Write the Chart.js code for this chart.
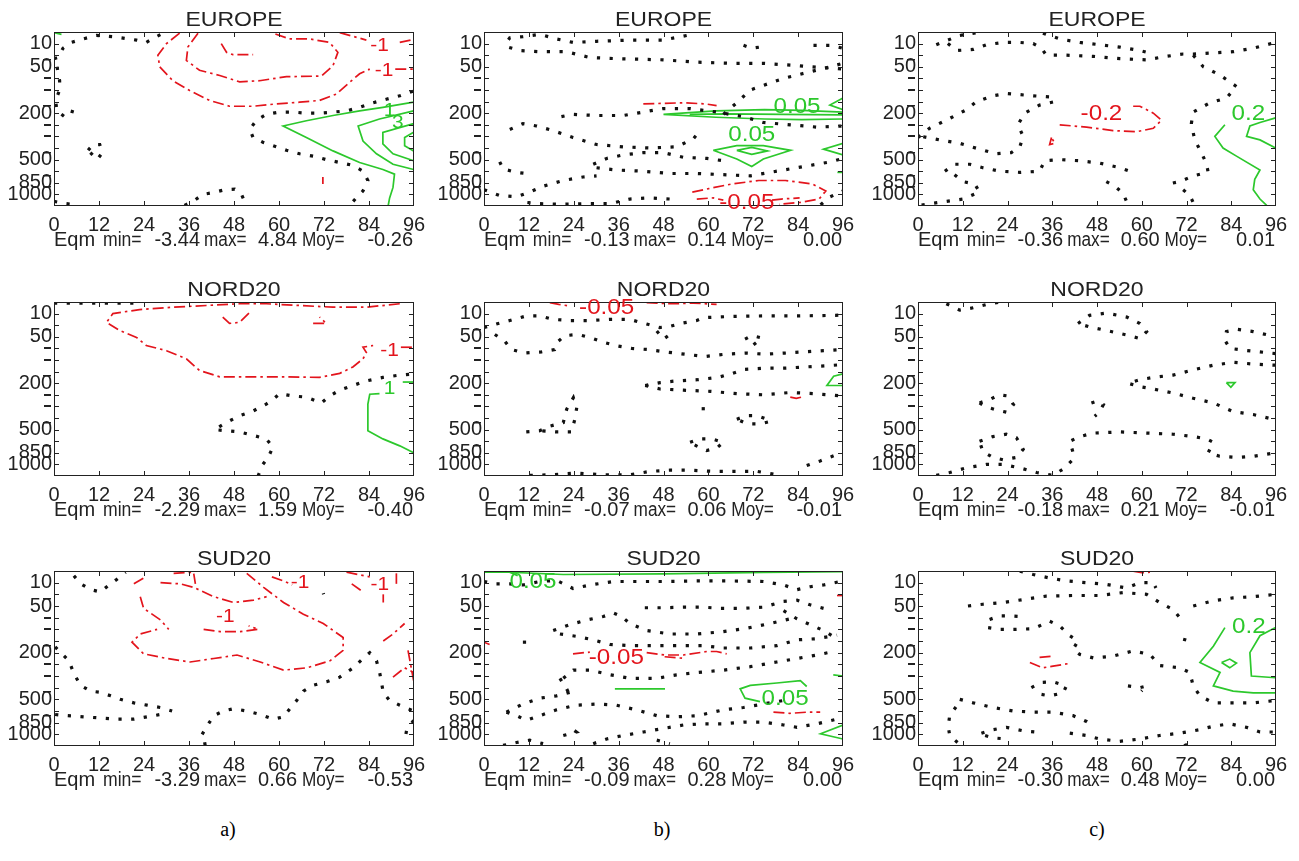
<!DOCTYPE html>
<html>
<head>
<meta charset="utf-8">
<script src="https://cdn.jsdelivr.net/npm/chart.js@4.4.0/dist/chart.umd.min.js"></script>
<style>
  body { margin: 0; background: #fff; width: 1299px; height: 861px; position: relative; overflow: hidden; }
  .panel { position: absolute; }
  .tag { position: absolute; width: 60px; text-align: center; font-family: "Liberation Serif", "Times New Roman", serif; font-size: 20px; color: #000; }
</style>
</head>
<body>
<div class="tag" style="left:198px;top:818px">a)</div>
<div class="tag" style="left:632px;top:818px">b)</div>
<div class="tag" style="left:1067px;top:818px">c)</div>
<script>
// axes
const hourTicks = [0, 12, 24, 36, 48, 60, 72, 84, 96];
const levelTicks = [1, 3, 4, 5, 7, 8, 9, 11, 13, 14];
const levelNames = ['10', '50', '-', '-', '200', '-', '-', '500', '850', '1000'];
const regions = ['EUROPE', 'NORD20', 'SUD20'];

// Eqm min / max / Moy per panel
const a1Stats = [-3.44, 4.84, -0.26];
const b1Stats = [-0.13, 0.14, 0.00];
const c1Stats = [-0.36, 0.60, 0.01];
const a2Stats = [-2.29, 1.59, -0.40];
const b2Stats = [-0.07, 0.06, -0.01];
const c2Stats = [-0.18, 0.21, -0.01];
const a3Stats = [-3.29, 0.66, -0.53];
const b3Stats = [-0.09, 0.28, 0.00];
const c3Stats = [-0.30, 0.48, 0.00];

// contours as [hour, level] polylines: zero (dotted), negative (red), positive (green)
const a1Zero = [
  [[0,2.3],[1.1,2.2],[2.4,1.4],[4.6,0.9],[7.7,0.6],[11.3,0.3],[15.7,0.4],[22,0.7],[24.6,0.9],[27.3,0.4],[29.5,0.05]],
  [[0.8,3.0],[1.5,4.2],[1.5,5.0],[0.4,5.9],[0.8,6.8],[2.8,7.3],[4.2,6.8],[6.4,7.0]],
  [[9.1,10.2],[10.4,9.7],[12.2,9.7],[12.9,10.4],[11.5,11.0],[9.1,10.2]],
  [[0,14.6],[3.3,14.8],[6.4,14.9]],
  [[34.8,14.95],[37.1,14.6],[39.7,14.0],[42.4,13.85],[45.5,13.6],[48.2,13.55],[50,14.0],[51.3,14.95]],
  [[95.7,5.1],[92.2,5.5],[88.6,5.8],[85.1,6.1],[81.5,6.5],[78,6.8],[74.4,6.9],[70.8,7.0],[67.3,7.0],[63.7,6.9],[60.2,6.9],[56.6,7.1],[54,7.6],[52.2,8.4],[53.1,9.1],[55.7,9.5],[58.4,9.8],[62,10.2],[65.5,10.5],[69.1,10.7],[72.6,11.0],[76.2,11.25],[79.7,11.5],[82.4,12.0],[83.7,12.8],[82.4,13.7],[80.6,14.3],[78.8,14.95]]
];
const a1Neg = [
  [[33.5,0.1],[30,1.0],[27.7,2.0],[28.2,3.0],[31.7,4.2],[36.2,5.05],[41.5,5.9],[46.8,6.4],[53.1,6.4],[59.3,6.2],[65.5,6.05],[70.8,5.9],[75.3,5.35],[78.8,4.35],[81.5,3.6],[84.2,3.2]],
  [[38.4,0.1],[35.7,1.3],[35.3,2.45],[38.8,3.3],[44.2,3.75],[49.5,4.3],[54.8,4.2],[62,3.85],[71.3,3.8],[74.4,2.9],[75.7,1.75],[73.5,0.9],[68.2,0.6],[62.8,0.6],[58.4,0.1]],
  [[44.6,1.0],[46,1.75],[47.7,1.95],[53.1,1.95]],
  [[76.2,0.05],[83.3,0.7]],
  [[92.2,0.9],[95.9,0.65]],
  [[91,3.2],[95.9,3.2]],
  [[71.7,12.5],[71.7,13.1]]
];
const a1Pos = [
  [[95.9,6.05],[87.7,6.5],[81.5,6.8],[74.4,7.2],[67.3,7.65],[61.1,8.1],[67.3,9.1],[74.4,10.25],[81.5,11.25],[87.7,11.85],[90.8,12.25],[90.4,13.4],[89.5,14.3],[89.1,15]],
  [[95.9,6.8],[86.8,7.5],[81.1,8.1],[82.4,9.4],[86,10.5],[90.4,11.4],[95.9,11.85]],
  [[95.9,7.9],[87.7,8.65],[87.7,9.65],[90.4,10.5],[95.9,11.1]],
  [[95.9,8.65],[93.5,9.1],[93.5,9.8],[95.9,10.25]],
  [[0,0.05],[2,0.2]]
];
const a1Labels = [[86.8,1.15,'-1','neg'],[88,3.3,'-1','neg'],[89.5,6.8,'1','pos'],[91.7,7.8,'3','pos']];

const b1Zero = [
  [[54.2,0.3],[47.9,0.7],[39,0.7],[30.1,0.8],[23.8,0.9],[19.4,0.6],[14.9,0.2],[10.4,0.4],[6.9,0.5],[6,0.9],[6.4,1.3],[9.6,1.6],[14.9,1.7],[22,1.7],[28.3,2.2],[35.4,2.3],[47.9,2.4],[56.9,2.6],[65.8,2.7],[74.7,2.7],[83.7,2.9],[96,3.2]],
  [[64,7.1],[67.6,6.1],[71.2,5.0],[74.7,4.6],[80.1,4.0],[86.3,3.5],[92.6,3.0],[96,2.7]],
  [[69.4,1.15],[71.6,1.4],[73.8,1.3]],
  [[88.1,1.15],[92.6,1.15],[96,1.4]],
  [[20.7,7.3],[23.8,7.1],[30.1,7.2],[37.2,7.2],[42.6,6.9],[47.9,6.6],[55.1,6.6],[62.2,6.9],[69.4,7.3],[74.7,7.8],[81.9,8.0],[89,8.2],[96,8.1]],
  [[6.9,8.4],[10.4,7.9],[14,8.1],[18.5,8.5],[23.8,9.1],[30.1,9.7],[37.2,9.9],[44.4,10],[51.5,9.9],[56,9.2],[57.8,8.5]],
  [[4.2,11.2],[5.1,11.8],[8.7,12.1],[11.3,12.2]],
  [[29.2,11.4],[32.8,10.9],[37.2,10.6],[42.6,10.4],[47.9,10.4],[53.3,10.8],[59.6,10.9],[64,11.1]],
  [[30.1,11.7],[35.4,11.9],[42.6,12.0],[49.7,12.2],[56.9,12.2],[64,12.3],[71.2,12.4],[76.5,12.1],[81.9,11.8],[87.2,11.5],[92.6,11.2],[96,10.9]],
  [[0,13.6],[4.2,14.1],[8.7,14.2],[12.2,13.8],[15.8,13.3],[21.2,12.8],[26.5,12.5],[30.1,12.4]],
  [[11.6,14.7],[14.9,14.8],[21.2,14.85],[27.4,14.8],[33.7,14.8],[39,14.4],[44.4,14.3],[49.7,14.4]],
  [[90,14.9],[92.6,14.2],[96,13.7]]
];
const b1Neg = [
  [[42.6,6.2],[47.9,6.15],[53.3,6.1],[59.2,6.2],[62.2,6.35]],
  [[55.7,13.8],[60.1,13.5],[66.3,13.1],[73.5,12.8],[80.6,12.8],[87.8,13.1],[91.4,13.7],[89.6,14.4],[84.4,14.7],[78.9,14.85]],
  [[56.9,14.4],[61.3,14.3],[64,14.5]],
  [[77,14.5],[79.5,14.4],[84.4,14.3]]
];
const b1Pos = [
  [[96,6.9],[85,6.75],[75,6.7],[62,6.8],[48,7.1],[62,7.35],[75,7.5],[85,7.55],[96,7.5]],
  [[96,7.15],[80,7.1],[65,7.05],[55,7.1]],
  [[96,5.7],[92.5,6.3],[96,6.7]],
  [[61.3,10.2],[67.6,9.8],[74.7,9.8],[82,10.2],[74.7,10.95],[71.6,11.6],[67.6,10.95],[61.3,10.2]],
  [[67.6,10.2],[71.6,9.95],[75.8,10.25],[71.6,10.55],[67.6,10.2]],
  [[96,9.6],[90.8,10.1],[96,10.6]],
  [[94.5,12.1],[96,12.1]]
];
const b1Labels = [[83.7,6.5,'0.05','pos'],[71.6,8.85,'0.05','pos'],[70.3,14.75,'-0.05','neg']];

const c1Zero = [
  [[4.9,1.1],[8,0.7],[11.2,0.3],[16.5,0.02]],
  [[8,1.0],[10.3,1.6],[14.8,1.5],[18.3,1.1],[22.8,0.9],[27.3,0.9],[30.9,1.0],[33.1,1.4],[34.4,2.0],[39.8,2.0],[47,2.1],[54.1,2.3],[61.3,2.4],[66.6,2.1],[71.1,1.9],[73.8,1.9],[79.2,1.8],[84.5,1.7],[89.9,1.4],[95.9,0.9]],
  [[33.5,0.1],[38,0.6],[43.4,0.9],[48.7,1.1],[54.1,1.3],[59.5,1.6],[63.1,1.9]],
  [[73.8,2],[76.5,3],[80.9,3.7],[85.4,4.7],[82.7,5.7],[78.3,6.1],[73.8,6.9],[73.3,7.9],[74.2,9.3],[76,10.4],[77.4,11.4],[77.8,12.1],[73.8,12.4],[70.2,12.9],[67.1,13.1]],
  [[71.1,13.6],[72.9,14.1],[74.1,14.9]],
  [[0,9.1],[3.1,8.3],[7.6,7.6],[13,6.7],[15.7,6.0],[20.1,5.5],[23.7,5.3],[27.3,5.4],[30.9,5.5],[35.3,5.6],[36.7,6.0],[32.6,6.3],[28.6,7.0],[26.8,8.0],[28.2,9.0],[27.3,9.9],[25,10.4],[21,10.5],[16.5,10.1],[11.2,9.6],[5.8,9.3],[0.9,9.0]],
  [[7.2,12],[9.8,11.4],[13.9,11.4],[17.4,11.7],[21.9,12.0],[27.3,12.1],[32.6,12],[34,11.1],[38,11],[43.4,11.1],[48.7,11.3],[54.1,11.7],[57.7,12.1]],
  [[9.8,12.3],[12.1,12.9],[15.2,13.1],[16.5,13.8],[12.1,14.4],[7.6,14.6],[3.1,14.8],[0.4,14.95]],
  [[50.5,12.9],[52.8,13.3],[55,13.9],[55.9,14.6]]
];
const c1Neg = [
  [[38,8],[45.2,8.2],[52.3,8.5],[58.6,8.6],[63.1,8.3],[65.3,7.6],[63.1,7.0],[59.5,6.4],[57.7,6.4]],
  [[35.8,9.1],[35.3,9.7],[36.7,9.6],[35.8,9.1]]
];
const c1Pos = [
  [[82.3,8],[79.6,9],[81.8,10],[85.4,10.7],[91.7,11.9],[90.3,12.7],[89.9,13.6],[91.7,14.4],[93.5,14.95]],
  [[95.9,7.4],[91.7,7.8],[89,8.1],[88.1,9.0],[91.7,9.3],[95.9,10]]
];
const c1Labels = [[49.2,7.1,'-0.2','neg'],[88.6,7.05,'0.2','pos']];

const a2Zero = [
  [[0,0.1],[6,0.1],[12,0.1],[18,0.1],[23.7,0.1]],
  [[54.4,15],[55.7,14],[57.1,13.4],[58.4,12.5],[56.6,11.8],[53.1,11.5],[49.5,11.2],[45.9,11.1],[42.8,11],[45.9,10.4],[49.5,9.8],[53.1,9.4],[56.6,8.8],[58.4,8.4],[60.2,7.9],[63.7,8.1],[67.3,8.2],[71.3,8.7],[73.5,8.1],[76.2,7.6],[79.7,7.2],[83.3,6.8],[87.7,6.5],[92.2,6.3],[95.9,6.2]]
];
const a2Neg = [
  [[92.2,0.15],[83.3,0.45],[74.4,0.45],[65.5,0.3],[56.6,0.15],[49.5,0.15],[40.6,0.3],[31.7,0.45],[22.8,0.65],[15.7,1.0],[14,1.75],[17.5,2.45],[22,3.05],[24.6,3.75],[30,4.2],[35.3,4.9],[38.8,5.9],[44.2,6.45],[53.1,6.45],[62,6.45],[70.8,6.5],[76.2,6.15],[79.7,5.6],[82.4,4.9],[83.3,4.35],[82.4,3.9],[85.1,3.75]],
  [[45,1.3],[46.8,1.85],[49.5,1.75],[52.2,0.9]],
  [[69.1,1.85],[72.6,1.85],[70.8,1.3]],
  [[92.5,3.9],[95.9,3.9]]
];
const a2Pos = [
  [[86.8,7.9],[84.2,7.95],[83.7,8.8],[83.7,11.1],[87.7,11.8],[92.2,12.4],[95.9,13]],
  [[93,6.9],[95.9,6.9]]
];
const a2Labels = [[89.5,4.2,'-1','neg'],[89.5,7.5,'1','pos']];

const b2Zero = [
  [[0,2.2],[3.3,1.9],[6.9,1.6],[11.3,1.2],[14.9,1.2],[18.5,1.5],[23,1.6],[28.4,1.6],[33.7,1.5],[39,1.5],[43.5,1.9],[47,2.2],[49.7,2.1],[53.3,1.8],[56.9,1.6],[58.7,1.35],[65.8,1.25],[74.7,1.2],[83.7,1.2],[94,1.15],[96,1.1]],
  [[2.9,2.8],[5.6,3.4],[7.3,4.1],[10.9,4.4],[15.4,4.3],[18.9,4.1],[19.8,3.4],[21.6,2.9],[25.1,2.8],[28.7,3.1],[32.3,3.5],[35.9,3.8],[39.5,4.0],[43.9,4.1],[48.4,4.3],[53.7,4.5],[59.1,4.7],[64.5,4.5],[69.8,4.4],[75.3,4.5],[80.5,4.4],[85.4,4.3],[90.8,4.2],[96,4.1]],
  [[46.2,2.5],[48,3.2],[49.7,2.8]],
  [[69.8,3.2],[71.6,2.9],[74.3,3.1],[71.6,3.8]],
  [[43.1,7.2],[47.1,6.95],[51.5,6.8],[57.1,6.7],[62.5,6.5],[66,6.2],[69.8,5.8],[75.3,5.7],[80.5,5.7],[85.9,5.6],[91.2,5.5],[96,5.4]],
  [[43.1,7.2],[47.1,7.5],[53.3,7.6],[60.5,7.7],[67.6,7.9],[74.7,8.0],[81.9,7.8],[88.1,7.9],[96,8.1]],
  [[11.3,11.2],[14.9,11.1],[17.6,10.7],[21.2,10.4],[22.1,9.25],[23.9,8.25],[24.8,9.1],[24.3,10.1],[23.4,11.2],[19.4,11.2],[14.9,11.1]],
  [[58.2,9.2],[60.9,9.2]],
  [[67.6,10.1],[70.3,9.8],[73,9.8],[75.7,10.1],[76.6,10.3],[73.9,10.5],[70.3,10.5],[67.6,10.1]],
  [[55.1,12.1],[57.8,11.8],[60.9,11.8],[64,12.1],[62.2,12.6],[59.5,12.8],[56.8,12.4],[55.1,12.1]],
  [[12.2,14.95],[17.6,14.9],[24.7,14.75],[31.9,14.9],[39,14.9],[44.4,14.6],[49.7,14.5],[55.1,14.5],[61.3,14.6],[67.6,14.6],[73,14.6],[78.4,14.9]],
  [[86.3,14.1],[89.9,13.7],[94.8,13.1]]
];
const b2Neg = [
  [[17.6,0.05],[20,0.2],[23,0.35]],
  [[43.5,0.05],[50,0.15],[56,0.1],[62.2,0.2]],
  [[81.9,8.2],[83.5,8.3],[85,8.2]]
];
const b2Pos = [
  [[96,6.2],[93.5,6.4],[91.7,7.2],[96,7.2]]
];
const b2Labels = [[32.8,0.5,'-0.05','neg']];

const c2Zero = [
  [[7.6,0.15],[11.2,0.7],[14.8,0.5],[19.2,0.15],[21.9,0.02]],
  [[42.9,1.85],[46,1.15],[50.5,0.95],[56,1.3],[59.5,1.85],[61.3,2.55],[59.5,3.15],[56,2.85],[50.5,2.45],[46,2.15],[42.9,1.85]],
  [[95.9,4.45],[91.7,4.3],[87.2,4.15],[83.6,4.0],[82.3,3.3],[82.7,2.55],[85.4,2.35],[89.9,2.55],[95.9,3.0]],
  [[95.9,5.45],[89.9,5.35],[84.5,5.2],[79.2,5.45],[73.8,5.85],[68.4,6.3],[63.1,6.5],[59.5,6.7],[56.3,7.0],[59.5,7.3],[63.1,7.5],[68.4,7.85],[73.8,8.3],[79.2,8.7],[84.5,9.45],[89.9,9.7],[95.9,10.15]],
  [[16.5,8.7],[19.2,8.4],[21.9,8.0],[24.1,8.1],[25.6,8.85],[23.7,9.5],[21,9.3],[18.3,9.05],[16.5,8.7]],
  [[46.5,8.7],[47.9,8.55],[49.7,8.85],[48.6,9.5],[47.4,9.85]],
  [[16.5,12],[20.1,11.6],[23.7,11.4],[26.4,11.7],[28.2,12.7],[26.4,13.4],[22.8,13.6],[20.1,13.4],[17.4,12.9],[16.5,12]],
  [[4.9,14.95],[8.5,14.7],[13,14.3],[18.3,14.0],[22.8,14.0],[27.3,14.3],[31.8,14.7],[36.2,14.95],[38.9,14.4],[41.2,13.7],[41.6,13],[40.7,12],[43.4,11.6],[47,11.3],[54.1,11.2],[61.3,11.3],[68.4,11.4],[73.8,11.6],[77.4,11.8],[79.2,12.1],[77.8,13],[80.9,13.3],[85.4,13.4],[89.9,13.3],[95.9,13.0]]
];
const c2Neg = [];
const c2Pos = [
  [[82.7,6.95],[85,6.95],[83.9,7.35],[82.7,6.95]]
];
const c2Labels = [];

const a3Zero = [
  [[5.3,0.4],[7.1,1.1],[9.8,1.6],[12.4,1.8],[15.1,1.1],[16.8,0.7],[19.1,0.1]],
  [[0.3,6.5],[1.8,7.0],[4,7.7],[5.3,8.8],[7.1,9.8],[9.8,10.3],[12.4,10.4],[15.1,10.7],[17.7,11],[21.3,11.3],[24.8,11.5],[28.4,11.7],[31.5,12]],
  [[0.3,12.3],[3.5,12.4],[8,12.5],[12.4,12.6],[16.8,12.7],[21.3,12.7],[24.8,12.5],[28.4,12.3]],
  [[39.5,14],[40.8,13.3],[42.6,12.4],[45.2,12],[47.9,11.8],[51.4,12],[55,12.3],[58.5,12.7],[61.2,12.5],[62.9,11.8],[64.7,11.1],[66.5,10.3],[69.1,9.8],[72.7,9.5],[76.2,9.1],[79.8,8.3],[82.4,7.5],[84.2,7.0],[86,7.7],[86.9,8.8],[87.8,10.4],[89.5,11.1],[92.2,11.5],[95.9,12]],
  [[95.9,12.8],[94,13.7],[93.5,14.6]],
  [[40.3,14.95],[40.1,14.5]],
  [[71.8,1.9],[71.9,2.0]]
];
const a3Neg = [
  [[51.4,0.2],[55.9,1.4],[61.2,2.7],[66.5,3.7],[71.8,4.5],[77.1,5.7],[77.1,6.8],[73.6,7.7],[67.4,8.3],[61.2,8.5],[55,7.8],[48.8,7.2],[42.6,7.5],[36.3,7.8],[30.1,7.5],[23.9,7.1],[20.8,6.1],[23,5.4],[27.5,5.0]],
  [[21.3,1.1],[23.9,0.6]],
  [[23,2.2],[23.9,3.2],[28.4,4.2],[30.6,5.0]],
  [[28.4,1.0],[33.7,1.1],[37.2,1.4],[42.6,2.2],[47.9,2.7],[53.2,2.5],[56.7,2.2]],
  [[31.9,0.2],[37.2,0.1],[37.7,1.1]],
  [[39.9,5.0],[44.3,5.2],[49.6,5.2],[54.5,5.0],[51.9,4.7]],
  [[58.1,0.5],[61.6,0.9],[63.5,1.2]],
  [[78,0.1],[84.2,0.5]],
  [[79.4,1.1],[82,1.7]],
  [[87.8,2.0],[87.8,2.7]],
  [[91.3,0.2],[91.3,1.1]],
  [[87.8,6.0],[90.4,5.4],[93.5,4.5]],
  [[90.4,9.1],[93.5,8.3],[95.9,8.7]],
  [[94.4,6.8],[95.9,9.4]]
];
const a3Pos = [];
const a3Labels = [[45.7,3.95,'-1','neg'],[65.6,1.0,'-1','neg'],[86.9,1.2,'-1','neg']];

const b3Zero = [
  [[0,0.9],[3.3,1.1],[6.9,1.1],[10.4,1.2],[14.9,0.9],[19.4,0.8],[23.8,1.5],[28.3,1.2],[34.6,0.9],[40.8,0.9],[47.9,0.9],[56.9,0.85],[65.8,0.85],[74.7,0.9],[80.1,1.2],[83.7,1.6],[87.2,1.35],[90.8,1.2],[95.3,0.9]],
  [[43,3.15],[47.9,3.15],[53.3,3.1],[58.7,3.1],[63.1,3.2],[69.4,3.2],[74.7,3.1],[80.1,2.6],[83.7,2.5],[87.2,2.9],[90.8,3.2]],
  [[80.1,3.4],[83.7,4.1],[87.2,4.6],[90.8,5.1],[94.4,5.8]],
  [[18.5,5.1],[23,4.6],[27.4,4.2],[31.9,3.9],[34.6,3.6],[36.8,3.9],[39,4.5],[43.5,5.1],[49.7,5.4],[56.9,5.4],[64,5.2],[70.3,4.9],[76.5,4.5],[81.9,4.1]],
  [[20.3,5.4],[24.7,5.6],[29.2,5.9],[33.7,6.3],[39,6.4],[46.2,6.4],[53.3,6.4],[58.7,6.4],[64,6.6],[71.2,6.6],[78.3,6.4],[83.7,5.9],[89,5.8],[94.4,5.5]],
  [[10.4,6.1],[13.1,6.1]],
  [[21.2,9.2],[23.9,8.5],[28.4,8.5],[33.8,8.9],[39,9.2],[46.2,9.2],[51.5,8.9],[57.1,8.7],[64,8.5],[71.2,8.2],[78.3,7.8],[83.7,7.5],[89,7.2],[93.5,6.9]],
  [[20.3,9.2],[22.1,10.1],[23,10.7]],
  [[6,12.1],[10.4,11.4],[14.9,10.9],[19.4,10.7],[23,10.4]],
  [[6,12.1],[8.7,12.4],[11.3,12.8],[14.9,12.4],[19.4,11.9],[24.7,11.5],[30.1,11.4],[35.4,11.5],[40.8,11.9],[46.2,12.4],[51.5,12.5],[57.1,12.4],[64,11.9],[69.4,11.7],[74.7,11.4],[80.1,11.1]],
  [[21.2,14.1],[24.7,13.8],[23,13.4]],
  [[29.2,14.8],[32.8,14.4],[37.2,14.1],[42.6,13.8],[47.9,13.5],[53.3,13.2],[58.6,13.1],[64,13.1],[69.4,12.95],[74.7,12.95],[80.1,13.2],[83.7,13.4],[89,13.1],[94.4,12.7]],
  [[5.1,14.95],[8.7,14.7],[12.2,14.5],[15.8,14.8]],
  [[46.2,14.5],[49.7,14.8]]
];
const b3Neg = [
  [[23.8,7.1],[28.3,6.95]],
  [[43.5,7.0],[48.3,7.2],[53.3,7.2],[59.6,6.9],[62.2,6.9],[64.9,7.1]],
  [[48.3,7.35],[54,7.5]],
  [[77.4,12.1],[81.8,12.2],[86.3,12.1],[89.9,12.1]],
  [[0,6.1],[1.5,6.3]],
  [[94.4,2.1],[96,2.1]]
];
const b3Pos = [
  [[0,0.02],[21.2,0.3],[47.9,0.25],[74.7,0.12],[96,0.05]],
  [[0,0.1],[6.9,0.1],[9,0.4]],
  [[35,10.1],[48.4,10.1]],
  [[86.3,9.9],[84.6,9.4],[78.3,9.6],[71.2,9.8],[68.5,10.1],[69.8,10.9],[73.8,11.2]],
  [[96,13.2],[90,13.95],[96,14.4]],
  [[93.4,8.9],[96,9.0]]
];
const b3Labels = [[13.1,0.92,'0.05','pos'],[80.5,11.0,'0.05','pos'],[35.4,7.45,'-0.05','neg']];

const c3Zero = [
  [[27.3,0.02],[30.9,0.3],[35.3,0.6],[39.8,0.85],[45.2,1.0],[50.5,1.15],[55.9,1.45],[59.5,1.0],[63.1,1.0],[63.8,1.45]],
  [[13.4,3],[17.4,2.85],[22.8,2.7],[28.2,2.45],[34.4,2.15],[41.6,2.1],[48.7,2.1],[55,1.85],[61.3,2.0],[64.8,2.7],[68.4,3.3],[70.2,4.0]],
  [[73.8,3],[79.2,2.55],[84.5,2.3],[89.9,2.2],[95.9,2.0]],
  [[19.2,4.15],[21.9,3.85],[24.6,3.85],[27.3,3.9]],
  [[18.8,4.85],[21.9,5],[26.4,5],[30.9,4.95],[35.3,4.3],[38,4.7],[40.7,5.55],[42.9,6],[41.6,6.7],[43.4,7.15],[47,7.45],[52.3,7.3],[57.7,6.85],[62.2,7.15],[64.8,8.1],[70.2,8.3],[72.9,8.7],[73.8,9.85],[75.6,10.7],[79.2,11.3],[84.5,11.3],[89.9,11.3],[95.9,11.1]],
  [[71.1,5.85],[72.9,6]],
  [[30.4,10],[33.1,9.55],[36.2,9.5],[39.8,9.85],[38.9,10.45],[35.3,10.7],[32.6,10.55]],
  [[56.3,9.85],[59.5,10],[61.3,9.85],[59.9,10.3]],
  [[10.6,14.7],[8.5,14.1],[8.1,13.3],[8.5,12.4],[10.3,11.6],[11.2,11]],
  [[11.2,11],[14.8,11.3],[20.1,11.7],[25.5,12],[30.9,12.1],[36.2,12.1],[41.6,12.4],[45.2,12.9],[46.1,13.1]],
  [[17,13.9],[20.1,13.6],[23.7,13.4],[28.2,13.7],[31.4,13.8]],
  [[18,14.1],[20.1,14.3],[23.7,14.4]],
  [[40.7,13.9],[45.2,14.1],[48.7,14.4],[54.1,14.6],[59.5,14.4],[64.8,14.1],[70.2,13.9],[75.6,13.6],[79.2,13.3],[83.6,13.1],[88.1,13.4],[91.7,13.8],[95.9,13.8]],
  [[71.6,14.8],[71.8,14.95]]
];
const c3Neg = [
  [[57.7,0.02],[60,0.15],[62.2,0.1]],
  [[30,7.85],[33.5,8.3],[36.2,8.15],[41.1,7.9]],
  [[32.6,7.4],[36.2,7.3]]
];
const c3Pos = [
  [[82.3,4.85],[79.2,6.45],[75.6,7.85],[81,8.7],[79.2,9.85],[84.5,10.3],[89.9,10.45],[95.9,10.45]],
  [[95.9,4.85],[91.7,5.55],[89,7.0],[89.4,9.0],[95.9,9.15]],
  [[81.4,7.85],[83.6,7.55],[85.4,7.9],[83.6,8.3],[81.4,7.85]]
];
const c3Labels = [[88.7,4.8,'0.2','pos']];

// page layout (plot frames in px)
const colLeft = [54, 484, 918], colRight = [414, 843, 1276];
const rowTop = [32, 302, 571], rowBottom = [206, 476, 746];
const padL = 60, padT = 40, padR = 30, padB = 60;

const panels = [
  [0, 0, a1Zero, a1Neg, a1Pos, a1Labels, a1Stats],
  [1, 0, b1Zero, b1Neg, b1Pos, b1Labels, b1Stats],
  [2, 0, c1Zero, c1Neg, c1Pos, c1Labels, c1Stats],
  [0, 1, a2Zero, a2Neg, a2Pos, a2Labels, a2Stats],
  [1, 1, b2Zero, b2Neg, b2Pos, b2Labels, b2Stats],
  [2, 1, c2Zero, c2Neg, c2Pos, c2Labels, c2Stats],
  [0, 2, a3Zero, a3Neg, a3Pos, a3Labels, a3Stats],
  [1, 2, b3Zero, b3Neg, b3Pos, b3Labels, b3Stats],
  [2, 2, c3Zero, c3Neg, c3Pos, c3Labels, c3Stats]
];

const RED = '#e3141c', GREEN = '#2cc82c', DOT = '#111';
const tickFont = '"Liberation Sans Narrow", "Liberation Sans", Arial, sans-serif';
const textFont = '"Liberation Sans", Arial, sans-serif';

function stretchText(ctx, s, px, py, align, sx) {
  ctx.save();
  ctx.translate(px, py);
  ctx.scale(sx, 1);
  ctx.textAlign = align;
  ctx.fillText(s, 0, 0);
  ctx.restore();
}

const decor = {
  id: 'decor',
  afterDatasetsDraw(chart, args, opts) {
    const { ctx, chartArea: a, scales: { x, y } } = chart;
    ctx.save();
    // frame + inward ticks
    ctx.strokeStyle = '#222';
    ctx.lineWidth = 1;
    ctx.strokeRect(a.left + 0.5, a.top + 0.5, a.width - 1, a.height - 1);
    ctx.beginPath();
    hourTicks.slice(1, -1).forEach(v => {
      const px = Math.round(x.getPixelForValue(v)) + 0.5;
      ctx.moveTo(px, a.bottom); ctx.lineTo(px, a.bottom - 5);
      ctx.moveTo(px, a.top); ctx.lineTo(px, a.top + 5);
    });
    for (let v = 1; v < 15; v++) {
      const py = Math.round(y.getPixelForValue(v)) + 0.5;
      ctx.moveTo(a.left, py); ctx.lineTo(a.left + 5, py);
      ctx.moveTo(a.right, py); ctx.lineTo(a.right - 5, py);
    }
    ctx.stroke();

    // dash marks of the level axis (bars over the labelled levels, short dashes between)
    ctx.fillStyle = '#222';
    levelTicks.forEach((v, i) => {
      const py = Math.round(y.getPixelForValue(v));
      if (levelNames[i] === '-') ctx.fillRect(a.left - 10, py - 1, 7, 2);
      else if (i > 0) ctx.fillRect(a.left - 11, py - 8, 8, 1.5);
    });

    // contour labels
    ctx.textBaseline = 'middle';
    opts.labels.forEach(([h, lev, txt, kind]) => {
      ctx.fillStyle = kind === 'neg' ? RED : GREEN;
      ctx.font = (txt.length <= 2 ? '19px ' : '22px ') + textFont;
      stretchText(ctx, txt, x.getPixelForValue(h), y.getPixelForValue(lev), 'center', 1.1);
    });

    // title
    ctx.fillStyle = '#222';
    ctx.textBaseline = 'alphabetic';
    ctx.font = '20px ' + textFont;
    stretchText(ctx, opts.title, (a.left + a.right) / 2, a.top - 6, 'center', 1.15);

    // statistics line
    const k = a.width / 360, by = a.bottom + 40;
    const [mn, mx, moy] = opts.stats;
    ctx.font = '20px ' + textFont;
    stretchText(ctx, 'Eqm', a.left, by, 'left', 1.0);
    stretchText(ctx, 'min=', a.left + 49 * k, by, 'left', 0.88);
    stretchText(ctx, mn.toFixed(2), a.left + 146 * k, by, 'right', 1.0);
    stretchText(ctx, 'max=', a.left + 150 * k, by, 'left', 0.86);
    stretchText(ctx, mx.toFixed(2), a.left + 243 * k, by, 'right', 1.0);
    stretchText(ctx, 'Moy=', a.left + 248 * k, by, 'left', 0.86);
    stretchText(ctx, moy.toFixed(2), a.left + 359 * k, by, 'right', 1.0);
    ctx.restore();
  }
};

function lineSet(pts, kind) {
  const base = {
    data: pts.map(([h, lev]) => ({ x: h, y: lev })),
    showLine: true, pointRadius: 0, tension: 0, fill: false
  };
  if (kind === 'zero') return Object.assign(base, { borderColor: DOT, borderWidth: 3.2, borderDash: [3.2, 9.5], borderCapStyle: 'butt' });
  if (kind === 'neg') return Object.assign(base, { borderColor: RED, borderWidth: 1.7, borderDash: [11, 4, 2.5, 4] });
  return Object.assign(base, { borderColor: GREEN, borderWidth: 1.7 });
}

panels.forEach(([col, row, zero, neg, pos, labels, stats]) => {
  const L = colLeft[col], R = colRight[col], T = rowTop[row], B = rowBottom[row];
  const box = document.createElement('div');
  box.className = 'panel';
  box.style.left = (L - padL) + 'px';
  box.style.top = (T - padT) + 'px';
  box.style.width = (R - L + padL + padR) + 'px';
  box.style.height = (B - T + padT + padB) + 'px';
  const cv = document.createElement('canvas');
  box.appendChild(cv);
  document.body.appendChild(box);

  const datasets = []
    .concat(zero.map(p => lineSet(p, 'zero')))
    .concat(neg.map(p => lineSet(p, 'neg')))
    .concat(pos.map(p => lineSet(p, 'pos')));

  new Chart(cv, {
    type: 'scatter',
    data: { datasets },
    options: {
      responsive: true,
      maintainAspectRatio: false,
      animation: false,
      events: [],
      layout: { padding: { left: 0, top: padT, right: padR, bottom: 0 } },
      plugins: {
        legend: { display: false },
        tooltip: { enabled: false },
        decor: { title: regions[row], labels, stats }
      },
      scales: {
        x: {
          type: 'linear', min: 0, max: 96,
          grid: { display: false, drawTicks: false },
          border: { display: false },
          afterBuildTicks: s => { s.ticks = hourTicks.map(v => ({ value: v })); },
          afterFit: s => { s.height = padB; },
          ticks: { color: '#222', padding: 7, maxRotation: 0, autoSkip: false, font: { family: tickFont, size: 20 } }
        },
        y: {
          type: 'linear', min: 0, max: 15, reverse: true,
          grid: { display: false, drawTicks: false },
          border: { display: false },
          afterBuildTicks: s => { s.ticks = levelTicks.map(v => ({ value: v })); },
          afterFit: s => { s.width = padL; },
          ticks: {
            color: '#222', padding: 2, autoSkip: false, font: { family: tickFont, size: 20 },
            callback: v => { const n = levelNames[levelTicks.indexOf(v)]; return n === '-' ? '' : n; }
          }
        }
      }
    },
    plugins: [decor]
  });
});
</script>
</body>
</html>
